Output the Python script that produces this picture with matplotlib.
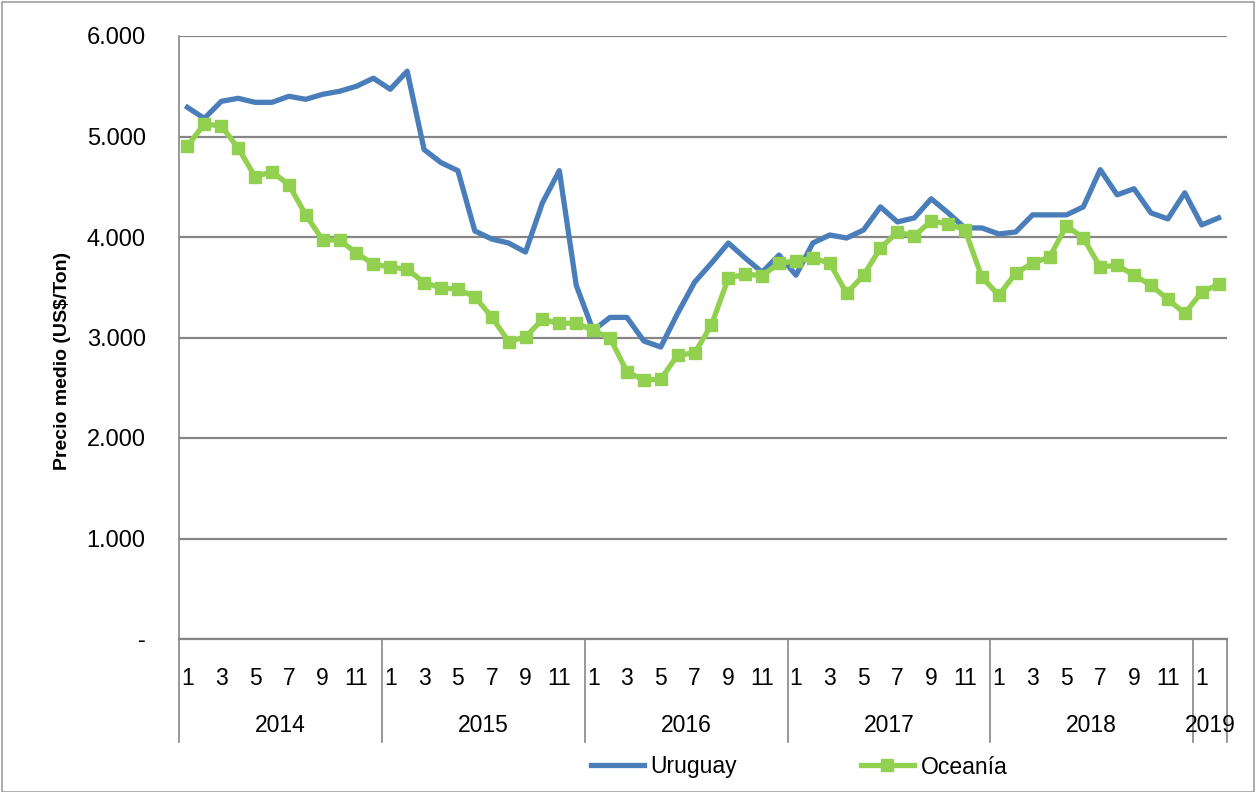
import numpy as np
import matplotlib
matplotlib.use("Agg")
import matplotlib.pyplot as plt
from matplotlib.transforms import blended_transform_factory
from matplotlib.patches import Rectangle
from matplotlib.lines import Line2D

plt.rcParams['font.family'] = ['Liberation Sans', 'DejaVu Sans']

years = [2014, 2015, 2016, 2017, 2018, 2019]
months_per_year = [12, 12, 12, 12, 12, 2]

uruguay = [5290, 5180, 5350, 5380, 5340, 5340, 5400, 5370, 5420, 5450, 5500, 5580,
           5470, 5650, 4870, 4740, 4660, 4060, 3980, 3940, 3850, 4340, 4660, 3520,
           3070, 3200, 3200, 2965, 2905, 3240, 3550, 3740, 3940, 3790, 3650, 3820,
           3620, 3940, 4020, 3990, 4070, 4300, 4150, 4190, 4380, 4240, 4090, 4090,
           4030, 4050, 4220, 4220, 4220, 4300, 4670, 4420, 4480, 4240, 4180, 4440,
           4120, 4190]
oceania = [4905, 5125, 5105, 4885, 4600, 4650, 4520, 4220, 3970, 3970, 3840, 3730,
           3700, 3680, 3545, 3495, 3480, 3405, 3205, 2960, 3005, 3180, 3140, 3145,
           3070, 2995, 2660, 2575, 2585, 2825, 2845, 3125, 3590, 3630, 3615, 3740,
           3760, 3790, 3740, 3440, 3620, 3890, 4050, 4010, 4160, 4130, 4070, 3600,
           3420, 3640, 3740, 3800, 4110, 3990, 3700, 3720, 3620, 3520, 3380, 3240,
           3450, 3530]

yticks = [0, 1000, 2000, 3000, 4000, 5000, 6000]
ytick_labels = ['-', '1.000', '2.000', '3.000', '4.000', '5.000', '6.000']

W, H = 1256, 792
fig = plt.figure(figsize=(W / 100, H / 100), dpi=100)
ax = fig.add_axes([179 / W, 1 - 639 / H, (1227 - 179) / W, (639 - 36) / H])

month_nums = []
for n in months_per_year:
    month_nums.extend(range(1, n + 1))
x = np.arange(len(month_nums))

blue = '#4A7EBB'
green = '#92D050'
grid_c = '#868686'

ax.plot(x, uruguay, color=blue, lw=3.8, solid_joinstyle='round', zorder=3)
ax.plot(x, oceania, color=green, lw=3.8, marker='s', markersize=8.5, zorder=4)

ax.set_xlim(-0.5, len(x) - 0.5)
ax.set_ylim(0, 6000)
ax.set_yticks(yticks)
ax.set_yticklabels(ytick_labels, fontsize=17)
ax.yaxis.grid(True, color=grid_c, lw=1.6)
ax.set_axisbelow(True)
ax.tick_params(axis='y', length=0, pad=24)

odd_idx = [i for i, m in enumerate(month_nums) if m % 2 == 1]
ax.set_xticks(odd_idx)
ax.set_xticklabels([str(month_nums[i]) for i in odd_idx], fontsize=16.5)
ax.tick_params(axis='x', length=0, pad=20)

for s in ['top', 'right']:
    ax.spines[s].set_visible(False)
ax.spines['left'].set_color(grid_c)
ax.spines['bottom'].set_color(grid_c)
ax.spines['left'].set_linewidth(1.2)
ax.spines['bottom'].set_linewidth(1.6)

ax.set_ylabel('Precio medio (US$/Ton)', fontsize=14, fontweight='bold')
ax.yaxis.set_label_coords((71 - 179) / (1227 - 179), (639 - 361) / (639 - 36))

trans = blended_transform_factory(ax.transData, ax.transAxes)
y_sep_bottom = -(742 - 639) / (639 - 36)
y_year = -(725 - 639) / (639 - 36)
start = 0
bounds = [-0.5]
for yr, n in zip(years, months_per_year):
    bounds.append(start + n - 0.5)
    ax.text(start + (n - 1) / 2, y_year, str(yr), transform=trans, ha='center',
            va='center', fontsize=16.5)
    start += n
for b in bounds:
    ax.add_line(Line2D([b, b], [0, y_sep_bottom], transform=trans, color=grid_c,
                       lw=1.2, clip_on=False))

leg = fig.legend(handles=[Line2D([], [], color=blue, lw=3.8),
                          Line2D([], [], color=green, lw=3.8, marker='s', markersize=8.5)],
                 labels=['Uruguay', 'Oceanía'], loc='center',
                 bbox_to_anchor=(799 / W, 1 - 767 / H),
                 ncol=2, frameon=False, fontsize=16.5, handlelength=2.3,
                 handletextpad=0.3, columnspacing=5.4)

fig.patches.append(Rectangle((2 / W, 0), 1 - 4 / W, 1 - 2 / H, transform=fig.transFigure,
                             fill=False, edgecolor='#A0A0A0', lw=1.2))

fig.savefig('out.png', dpi=100)
